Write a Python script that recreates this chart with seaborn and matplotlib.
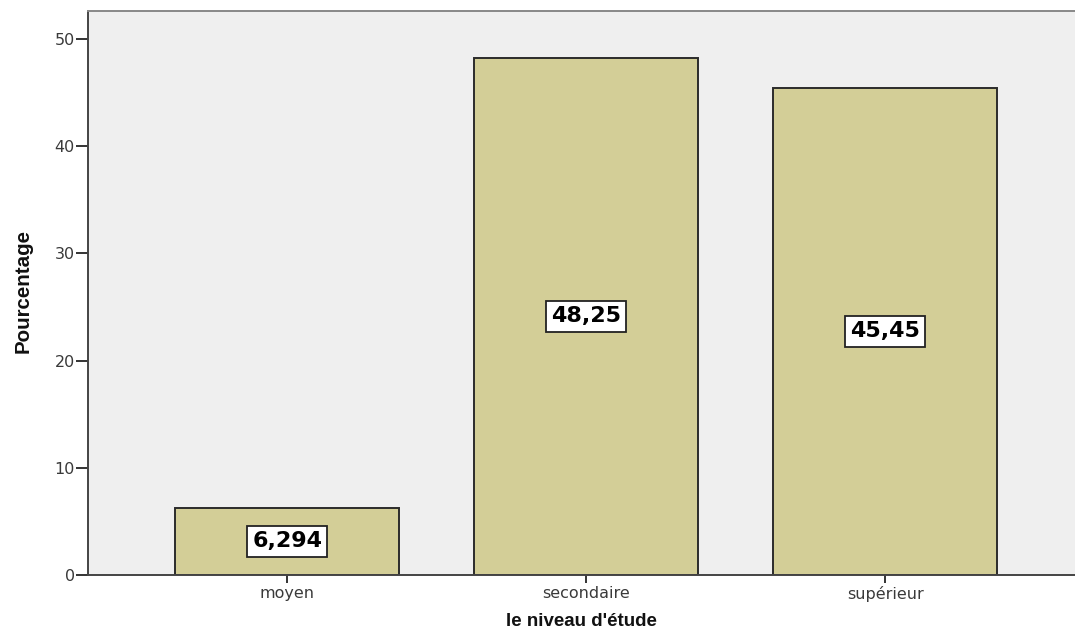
import matplotlib
matplotlib.use("Agg")
import matplotlib.pyplot as plt
import seaborn as sns
import pandas as pd

categories = ["moyen", "secondaire", "supérieur"]
percentages = [6.294, 48.25, 45.45]
value_labels = ["6,294", "48,25", "45,45"]
y_ticks = [0, 10, 20, 30, 40, 50]

sns.set_theme(style="white")
plt.rcParams["font.family"] = ["DejaVu Sans"]

df = pd.DataFrame({"niveau": categories, "pct": percentages})

fig = plt.figure(figsize=(10.75, 6.36), dpi=100)
ax = fig.add_axes([88 / 1075, 1 - 575 / 636, 1 - 88 / 1075, (575 - 11) / 636])
ax.set_facecolor("#EFEFEF")

sns.barplot(data=df, x="niveau", y="pct", color="#D3CE97", saturation=1,
            width=0.75, edgecolor="#2b2b2b", linewidth=1.4, ax=ax)

# value boxes centred inside each bar
for i, (v, lab) in enumerate(zip(percentages, value_labels)):
    ax.text(i, v / 2, lab, ha="center", va="center", fontsize=16, fontweight="bold",
            color="black", family="DejaVu Sans",
            bbox=dict(boxstyle="square,pad=0.24", fc="white", ec="#222222", lw=1.3))

ax.set_xlim(-0.666, 2.635)
ax.set_ylim(0, 52.6)
ax.set_yticks(y_ticks)
ax.set_yticklabels([str(t) for t in y_ticks])

for side in ["left", "bottom", "top"]:
    ax.spines[side].set_visible(True)
    ax.spines[side].set_linewidth(1.4)
ax.spines["left"].set_color("#444444")
ax.spines["bottom"].set_color("#444444")
ax.spines["top"].set_color("#888888")
ax.spines["right"].set_visible(False)

ax.tick_params(axis="y", which="major", direction="out", length=8.5, width=1.4,
               color="#333333", labelsize=11.5, labelcolor="#3a3a3a", pad=1, left=True)
ax.tick_params(axis="x", which="major", direction="out", length=6, width=1.4,
               color="#333333", labelsize=11.5, labelcolor="#3a3a3a", pad=2, bottom=True)

ax.set_xlabel("le niveau d'étude", fontsize=13.5, fontweight="bold",
              color="#111111", family="Liberation Sans")
ax.set_ylabel("Pourcentage", fontsize=14.8, fontweight="bold",
              color="#111111", family="Liberation Sans")
ax.xaxis.set_label_coords(0.5, (575 - 622) / 564)
ax.xaxis.label.set_va("center")
ax.yaxis.set_label_coords((23 - 88) / 987, 0.5 + (575 - 291 - 282) / 564)
ax.yaxis.label.set_va("center")

fig.savefig("out.png", dpi=100, facecolor="white")
